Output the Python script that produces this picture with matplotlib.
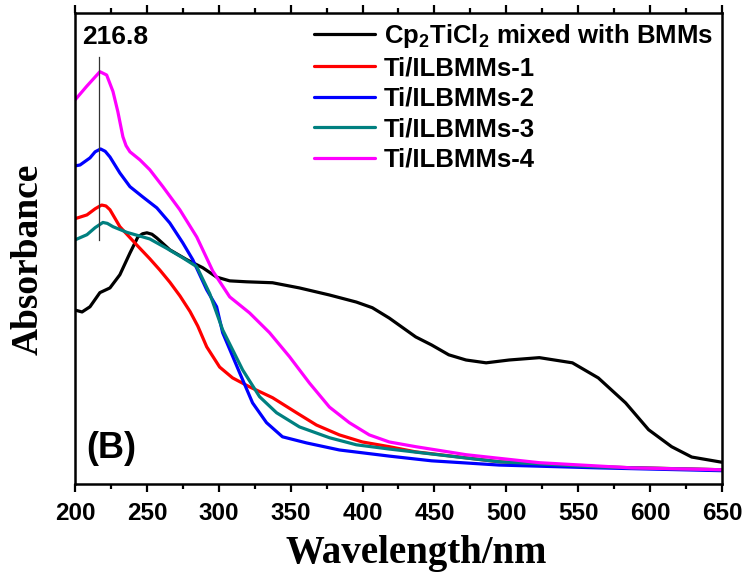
import matplotlib
matplotlib.use("Agg")
import matplotlib.pyplot as plt
from matplotlib.ticker import MultipleLocator

# ---- data (absorbance in arbitrary units) ----
wl_black = [200, 204.9, 210.4, 217.3, 224.3, 231.2, 238.2, 243.7, 247, 250.0, 253.5, 256.9, 265.9, 277.7,
            288.8, 298.5, 307.6, 319.4, 337.4, 356.1, 377.0, 395.7, 406.8, 418.6, 437, 448, 460, 472, 486,
            502, 523, 546, 564, 583, 599, 615, 629, 648, 650]
ab_black = [36.9, 36.5, 37.6, 40.6, 41.6, 44.4, 49.0, 52.4, 53.1, 53.3, 53.0, 52.2, 49.7, 47.6,
            45.9, 43.9, 43.1, 42.9, 42.7, 41.6, 40.1, 38.6, 37.4, 35.2, 31.2, 29.5, 27.4, 26.3, 25.7,
            26.3, 26.8, 25.7, 22.5, 17.2, 11.5, 7.9, 5.7, 4.7, 4.6]

wl_1 = [200, 208.3, 214, 218.5, 221.5, 224.3, 231.2, 243.0, 252, 259, 266, 273, 280, 285.4, 291.6, 300.6,
        309.6, 321.4, 337.4, 354.1, 367.9, 383.9, 399.9, 418.6, 437, 495, 564, 650]
ab_1 = [56.3, 57.1, 58.4, 59.2, 59.0, 58.2, 54.6, 50.7, 47.8, 45.4, 42.8, 39.9, 36.6, 33.5, 29.1, 24.8,
        22.5, 20.6, 18.3, 15.1, 12.5, 10.4, 8.9, 7.9, 6.8, 4.7, 3.6, 3.0]

wl_2 = [200, 203.5, 210.4, 214, 217.8, 221, 224.3, 231.2, 238.2, 247.2, 256.9, 265.9, 274.9, 281.9, 291.6,
        298.5, 302.7, 314.5, 323.5, 333.2, 344.3, 361.0, 383.9, 418.6, 448, 495, 564, 650]
ab_2 = [67.5, 67.7, 69.2, 70.5, 71.1, 70.6, 69.4, 66.0, 63.1, 60.9, 58.6, 55.4, 51.2, 47.6, 41.2,
        37.6, 32.1, 23.6, 17.2, 13.0, 10.0, 8.7, 7.2, 5.9, 4.9, 4.0, 3.4, 2.8]

wl_3 = [200, 208.3, 214, 219.4, 222.5, 226.4, 236.1, 252, 263.8, 274.9, 284.7, 293.7, 302.7, 316.6, 328.4,
        340.2, 356.1, 377.0, 395.7, 418.6, 472, 495, 564, 650]
ab_3 = [51.8, 52.9, 54.4, 55.5, 55.3, 54.6, 53.4, 52.0, 50.0, 48.0, 46.1, 40.4, 32.7, 24.2, 18.5,
        15.1, 12.1, 9.8, 8.3, 7.4, 5.5, 4.7, 3.6, 3.0]

wl_4 = [200, 208.1, 217.3, 222, 226.4, 229.8, 233.3, 235.5, 238.2, 245.1, 252.0, 261.1, 272.9, 284.7,
        295.8, 307.6, 321.4, 335.3, 349.2, 363.1, 377.0, 390.8, 404.7, 418.6, 437, 472, 523, 587, 650]
ab_4 = [81.5, 84.4, 87.5, 86.8, 83.3, 79.0, 73.7, 71.8, 70.5, 68.8, 66.7, 63.1, 58.2, 52.4,
        45.2, 39.7, 36.3, 32.1, 27.0, 21.4, 16.3, 13.0, 10.4, 8.9, 7.9, 6.2, 4.5, 3.4, 3.0]

peak_wl = 216.8
peak_label = "216.8"
labels = [r"Cp$_\mathbf{2}$TiCl$_\mathbf{2}$ mixed with BMMs", "Ti/ILBMMs-1", "Ti/ILBMMs-2",
          "Ti/ILBMMs-3", "Ti/ILBMMs-4"]
colors = ["#000000", "#FF0000", "#0000FF", "#008080", "#FF00FF"]
xticks = [200, 250, 300, 350, 400, 450, 500, 550, 600, 650]

# ---- plot ----
plt.rcParams['mathtext.fontset'] = 'custom'
plt.rcParams['mathtext.rm'] = 'Liberation Sans:bold'
plt.rcParams['mathtext.bf'] = 'Liberation Sans:bold'
plt.rcParams['mathtext.it'] = 'Liberation Sans:bold'

fig = plt.figure(figsize=(7.45, 5.83), dpi=100)
ax = fig.add_axes([0.1007, 0.170, 0.8683, 0.808])

series = [(wl_black, ab_black), (wl_1, ab_1), (wl_2, ab_2), (wl_3, ab_3), (wl_4, ab_4)]
for (x, y), c, lab in zip(series, colors, labels):
    ax.plot(x, y, color=c, lw=2.3, label=lab, solid_joinstyle='round', solid_capstyle='round')

ax.plot([peak_wl, peak_wl], [51.8, 90.7], color='#333333', lw=0.9)
ax.text(205.0, 94.9, peak_label, ha='left', va='center', fontsize=19, fontweight='bold',
        family='Liberation Sans')
ax.text(0.017, 0.075, "(B)", transform=ax.transAxes, fontsize=26, fontweight='bold',
        family='Liberation Sans', ha='left', va='center')

ax.set_xlim(200, 650)
ax.set_ylim(0, 100)
ax.set_xticks(xticks)
ax.xaxis.set_minor_locator(MultipleLocator(25))
ax.set_yticks([])
ax.tick_params(axis='x', which='major', direction='out', length=6, width=1.6, top=True, pad=7)
ax.tick_params(axis='x', which='minor', direction='out', length=3.5, width=1.6, top=True)
for lab in ax.get_xticklabels():
    lab.set_fontsize(17.5)
    lab.set_fontweight('bold')
    lab.set_family('Liberation Sans')
for s in ax.spines.values():
    s.set_linewidth(1.8)

ax.set_xlabel("Wavelength/nm", fontsize=28, fontweight='bold', family='Liberation Serif')
ax.xaxis.set_label_coords(0.527, -0.108)
ax.set_ylabel("Absorbance", fontsize=27, fontweight='bold', family='Liberation Serif')
ax.yaxis.set_label_coords(-0.046, 0.476)

leg = ax.legend(loc='upper right', frameon=False,
                prop={'family': 'Liberation Sans', 'weight': 'bold', 'size': 18.5},
                handlelength=2.35, handletextpad=0.35, labelspacing=0.25, borderaxespad=0.0,
                borderpad=0.35)

fig.savefig("out.png", dpi=100)
